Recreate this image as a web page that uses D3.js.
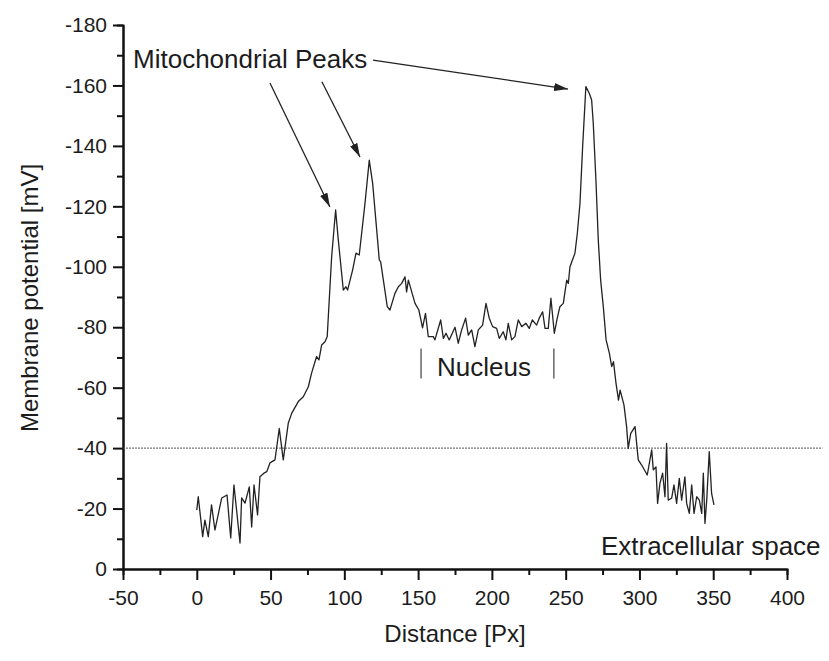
<!DOCTYPE html>
<html>
<head>
<meta charset="utf-8">
<script src="https://cdn.jsdelivr.net/npm/d3@7"></script>
<style>
  body { margin: 0; background: #fff; }
  text { font-family: "Liberation Sans", Arial, sans-serif; fill: #1c1c1c; }
</style>
</head>
<body>
<svg id="chart" width="829" height="661"></svg>
<script>
// profile: distance [Px] and membrane potential [mV]
const distance = [0, 1, 4, 5.5, 7.8, 10, 12.3, 16.9, 20.5, 23, 25.2, 29.3, 30.4, 32.7, 35.6, 37.2, 38.8, 41.2,
  42.8, 45.5, 47.4, 49.6, 53, 55.9, 58.6, 62, 64.3, 68.8, 72.2, 75.6, 77.8, 81.2, 82.8, 84.6, 86.9, 88.4,
  91.4, 94.1, 95.9, 99.3, 101.1, 102.2, 105.6, 107.9, 110.1, 114, 116.9, 119.2, 123.7, 124.6, 129.1, 130.9,
  134.3, 136.6, 138.9, 141.1, 142.2, 143.4, 147.9, 150.5, 153, 155, 156.9, 160.3, 161.4, 165.3, 167.1, 168.9,
  171.1, 175, 177.2, 179.5, 182.2, 184, 186.3, 188.5, 190.8, 193.7, 196, 198.2, 200.5, 203.2, 205, 207.7,
  209.5, 211.1, 213.4, 215.6, 217.9, 220.2, 223.1, 225.3, 227.4, 230.3, 232.1, 234.4, 236, 238.2, 240,
  242.3, 244.3, 246.1, 248.4, 250.7, 251.8, 252.9, 256.3, 257.9, 259.7, 261.5, 263.7, 266, 267.6, 268.7,
  270.5, 272.1, 273.7, 275.5, 277.4, 279.6, 281.2, 282.4, 284.1, 285.8, 286.9, 289.5, 291.3, 292.4, 294.1,
  297, 299.2, 301.5, 305.3, 308.3, 309.4, 311.2, 312.3, 313.9, 315.7, 317.3, 318.4, 319.5, 321.8, 323.4,
  325.2, 327, 328.6, 330.8, 332, 333.8, 335.4, 337, 338.8, 340.6, 342.2, 343.3, 344.4, 345.6, 347.3, 348.9,
  350.5];
const potential = [-19.5, -23.9, -10.7, -16.2, -10.7, -21.2, -12.9, -23.5, -24.5, -10.3, -27.8, -8.6, -23.5,
  -21.8, -27.2, -13.9, -27.8, -17.9, -30.5, -31.7, -32.2, -35.1, -36.1, -46.5, -36.1, -48.2, -51.5, -55.4,
  -57, -60.3, -64.8, -70.3, -69.2, -74.1, -75.2, -76.9, -103.3, -118.8, -108.9, -92.3, -93.4, -92.3, -98.9,
  -104.5, -103.9, -121, -135.3, -127.6, -102.2, -101.7, -86.8, -85.7, -91.2, -93.4, -94.5, -96.7, -91.7,
  -95.6, -87.9, -85.7, -79.8, -84.6, -76.9, -76.9, -75.8, -82.4, -76.3, -78, -75.8, -80, -74.7, -79.1, -83,
  -77.4, -79.1, -73.6, -79.1, -80.7, -87.9, -83, -80.2, -79.6, -76.3, -78.5, -75.8, -81.3, -75.8, -76.9,
  -82.4, -80.2, -81.3, -79.6, -82.4, -80.7, -83, -85.1, -79.6, -79.6, -89.6, -78, -83, -86.8, -87.9, -95.6,
  -94.5, -100, -104.5, -111.1, -121, -139.7, -159.6, -157.4, -155.2, -147.5, -128.7, -108.9, -95.6, -86.8,
  -75.8, -71.4, -67, -68.6, -61.5, -55.9, -59.2, -54.3, -47.1, -39.9, -44.9, -47.1, -36.1, -34.4, -31.1,
  -39.4, -32.8, -33.8, -21.7, -28.4, -31.7, -23.9, -41.6, -22.8, -23.4, -27.8, -21.7, -30, -22.8, -30.5,
  -21.7, -18.4, -27.8, -18.4, -23.9, -22.8, -18.4, -31.7, -15.1, -22.8, -38.8, -25, -21.2];

const xTicks = [-50, 0, 50, 100, 150, 200, 250, 300, 350, 400];
const xMinor = [-25, 25, 75, 125, 175, 225, 275, 325, 375];
const yTicks = [0, -20, -40, -60, -80, -100, -120, -140, -160, -180];
const yMinor = [-10, -30, -50, -70, -90, -110, -130, -150, -170];

const threshold = -40;
const thresholdEnd = 424;
const nucleusBounds = [152, 242];
const nucleusSpan = [-63, -73];

// annotation texts and arrows, in data units
const labels = [
  { text: "Mitochondrial Peaks", x: -43.2, y: -165.8 },
  { text: "Nucleus", x: 162.8, y: -63.9 },
  { text: "Extracellular space", x: 273.9, y: -4.6 }
];
const arrows = [
  { x1: 49.6, y1: -160.8, x2: 90.2, y2: -119.8 },
  { x1: 84.8, y1: -161.2, x2: 110.6, y2: -136.3 },
  { x1: 119.4, y1: -168.4, x2: 251.6, y2: -158.8 }
];

const svg = d3.select("#chart");
const x = d3.scaleLinear().domain([-50, 400]).range([123, 787]);
const y = d3.scaleLinear().domain([0, -180]).range([569, 25]);

svg.append("defs").append("marker")
  .attr("id", "head")
  .attr("markerUnits", "userSpaceOnUse")
  .attr("viewBox", "0 0 14 8")
  .attr("refX", 14).attr("refY", 4)
  .attr("markerWidth", 14).attr("markerHeight", 8)
  .attr("orient", "auto")
  .append("path")
  .attr("d", "M0,0L14,4L0,8Z")
  .attr("fill", "#222");

function styleAxis(g) {
  g.select(".domain").attr("stroke", "#111").attr("stroke-width", 2);
  g.selectAll(".tick line").attr("stroke", "#111").attr("stroke-width", 2);
  g.selectAll(".tick text")
    .style("font-family", "'Liberation Sans', Arial, sans-serif")
    .style("font-size", "21px")
    .attr("fill", "#1c1c1c");
}

// minor ticks first, then the main axes over them
svg.append("g")
  .attr("transform", "translate(0," + y(0) + ")")
  .call(d3.axisBottom(x).tickValues(xMinor).tickSize(6).tickFormat(""))
  .call(styleAxis);
svg.append("g")
  .attr("transform", "translate(" + x(-50) + ",0)")
  .call(d3.axisLeft(y).tickValues(yMinor).tickSize(6).tickFormat(""))
  .call(styleAxis);

svg.append("g")
  .attr("transform", "translate(0," + y(0) + ")")
  .call(d3.axisBottom(x).tickValues(xTicks).tickSize(11).tickSizeOuter(0).tickPadding(10)
    .tickFormat(d => String(d)))
  .call(styleAxis);
svg.append("g")
  .attr("transform", "translate(" + x(-50) + ",0)")
  .call(d3.axisLeft(y).tickValues(yTicks).tickSize(10).tickSizeOuter(0).tickPadding(6)
    .tickFormat(d => String(d)))
  .call(styleAxis);

// -40 mV reference line
svg.append("line")
  .attr("x1", x(-50)).attr("x2", x(thresholdEnd))
  .attr("y1", y(threshold)).attr("y2", y(threshold))
  .attr("stroke", "#555").attr("stroke-width", 1)
  .attr("stroke-dasharray", "2,1");

// profile
const line = d3.line().x((d, i) => x(distance[i])).y(d => y(d));
svg.append("path")
  .datum(potential)
  .attr("d", line)
  .attr("fill", "none")
  .attr("stroke", "#222")
  .attr("stroke-width", 1.3)
  .attr("stroke-linejoin", "round");

// nucleus bounds
svg.selectAll(".nuc")
  .data(nucleusBounds)
  .enter().append("line")
  .attr("x1", d => x(d)).attr("x2", d => x(d))
  .attr("y1", y(nucleusSpan[0])).attr("y2", y(nucleusSpan[1]))
  .attr("stroke", "#666").attr("stroke-width", 1.5);

svg.selectAll(".arrow")
  .data(arrows)
  .enter().append("line")
  .attr("x1", d => x(d.x1)).attr("y1", d => y(d.y1))
  .attr("x2", d => x(d.x2)).attr("y2", d => y(d.y2))
  .attr("stroke", "#222").attr("stroke-width", 1.3)
  .attr("marker-end", "url(#head)");

svg.selectAll(".label")
  .data(labels)
  .enter().append("text")
  .attr("x", d => x(d.x)).attr("y", d => y(d.y))
  .style("font-size", "26px")
  .text(d => d.text);

// axis titles
svg.append("text")
  .attr("x", (x(-50) + x(400)) / 2).attr("y", 642)
  .attr("text-anchor", "middle")
  .style("font-size", "24px")
  .text("Distance [Px]");
svg.append("text")
  .attr("transform", "translate(38," + 298 + ") rotate(-90)")
  .attr("text-anchor", "middle")
  .style("font-size", "24px")
  .text("Membrane potential [mV]");
</script>
</body>
</html>
